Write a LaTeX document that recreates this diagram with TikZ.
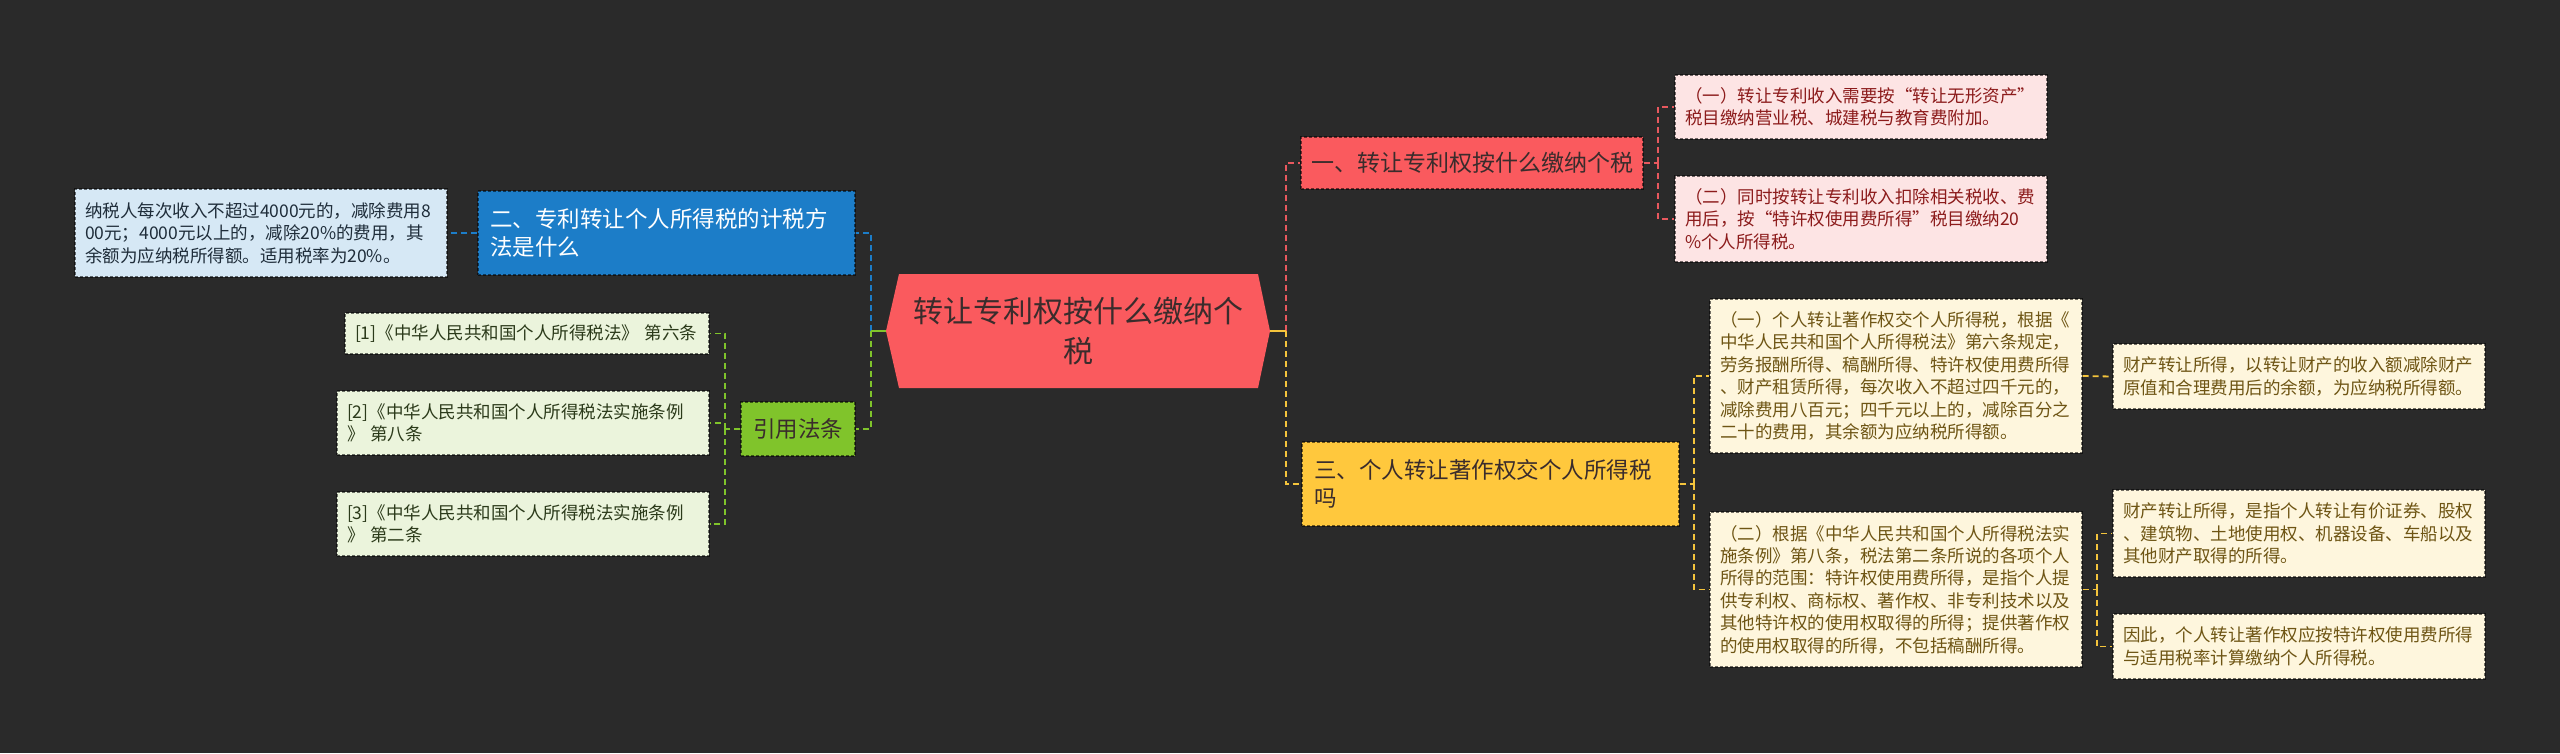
\documentclass[tikz,border=0pt]{standalone}
\usepackage{fontspec}
\setmainfont{Noto Sans CJK SC}
\definecolor{bg}{HTML}{2A2A2A}
\definecolor{cred}{HTML}{FA5A5E}
\definecolor{redleaf}{HTML}{FDE4E4}
\definecolor{redtxt}{HTML}{8C1B1B}
\definecolor{cblue}{HTML}{1C7DC8}
\definecolor{blueleaf}{HTML}{D6E8F5}
\definecolor{bluetxt}{HTML}{1F2D3A}
\definecolor{cgreen}{HTML}{80C42B}
\definecolor{greenleaf}{HTML}{EBF4DC}
\definecolor{greentxt}{HTML}{2B3A1A}
\definecolor{cyellow}{HTML}{FFC83D}
\definecolor{yellowleaf}{HTML}{FEF6DD}
\definecolor{yellowtxt}{HTML}{6E5514}
\definecolor{darktxt}{HTML}{3A2C2C}
\definecolor{lred}{HTML}{E8585E}
\definecolor{lyellow}{HTML}{F4C43C}
\tikzset{
  boxbase/.style={rectangle, inner ysep=0pt, align=left, draw=black, draw opacity=0.55,
    line width=1.1pt, dash pattern=on 3pt off 2pt},
  leafbox/.style={boxbase, inner xsep=10pt, font=\fontsize{17.5}{22.4}\selectfont},
  branchbox/.style={boxbase, inner xsep=12pt, font=\fontsize{22.5}{28}\selectfont},
  conn/.style={line width=1.8pt, dash pattern=on 6pt off 4pt},
  stub/.style={line width=1.8pt, solid}
}
\begin{document}
\begin{tikzpicture}[x=1pt,y=-1pt]
\fill[bg] (0,0) rectangle (2560,753);
\useasboundingbox (0,0) rectangle (2560,753);

% central
\fill[cred] (886,331) -- (899,274) -- (1258,274) -- (1270,331) -- (1258,388) -- (899,388) -- cycle;
\node[inner sep=0pt, minimum width=384pt, minimum height=114pt, align=center,
  text=darktxt, font=\fontsize{30}{40}\selectfont] (c) at (1078,331) {转让专利权按什么缴纳个\\税};

% left side
\node[branchbox, fill=cblue, text=white, text width=353pt, minimum height=84pt] (bb) at (666.5,233)
  {二、专利转让个人所得税的计税方\\法是什么};
\node[leafbox, fill=blueleaf, text=bluetxt, text width=352pt, minimum height=88pt] (bl) at (261,233)
  {纳税人每次收入不超过4000元的，减除费用8\\00元；4000元以上的，减除20\%的费用，其\\余额为应纳税所得额。适用税率为20\%。};

\node[branchbox, fill=cgreen, text=darktxt, text width=90pt, minimum height=54pt] (gb) at (798,429) {引用法条};
\node[leafbox, fill=greenleaf, text=greentxt, text width=344pt, minimum height=41pt] (gl1) at (527,333.5)
  {[1]《中华人民共和国个人所得税法》 第六条};
\node[leafbox, fill=greenleaf, text=greentxt, text width=352pt, minimum height=64pt] (gl2) at (523,423)
  {[2]《中华人民共和国个人所得税法实施条例\\》 第八条};
\node[leafbox, fill=greenleaf, text=greentxt, text width=352pt, minimum height=64pt] (gl3) at (523,524)
  {[3]《中华人民共和国个人所得税法实施条例\\》 第二条};

% right side: red
\node[boxbase, inner xsep=0pt, align=center, fill=cred, text=darktxt, minimum width=342pt, minimum height=52pt,
  font=\fontsize{23}{28}\selectfont] (rb) at (1472,163) {一、转让专利权按什么缴纳个税};
\node[leafbox, fill=redleaf, text=redtxt, text width=352pt, minimum height=64pt] (r1) at (1861,107)
  {（一）转让专利收入需要按“转让无形资产”\\税目缴纳营业税、城建税与教育费附加。};
\node[leafbox, fill=redleaf, text=redtxt, text width=352pt, minimum height=86pt] (r2) at (1861,219)
  {（二）同时按转让专利收入扣除相关税收、费\\用后，按“特许权使用费所得”税目缴纳20\\\%个人所得税。};

% right side: yellow
\node[branchbox, fill=cyellow, text=darktxt, text width=353pt, minimum height=84pt] (yb) at (1490.5,484)
  {三、个人转让著作权交个人所得税\\吗};
\node[leafbox, fill=yellowleaf, text=yellowtxt, text width=352pt, minimum height=154pt] (y1) at (1896,376)
  {（一）个人转让著作权交个人所得税，根据《\\中华人民共和国个人所得税法》第六条规定，\\劳务报酬所得、稿酬所得、特许权使用费所得\\、财产租赁所得，每次收入不超过四千元的，\\减除费用八百元；四千元以上的，减除百分之\\二十的费用，其余额为应纳税所得额。};
\node[leafbox, fill=yellowleaf, text=yellowtxt, text width=352pt, minimum height=155pt] (y2) at (1896,589.5)
  {（二）根据《中华人民共和国个人所得税法实\\施条例》第八条，税法第二条所说的各项个人\\所得的范围：特许权使用费所得，是指个人提\\供专利权、商标权、著作权、非专利技术以及\\其他特许权的使用权取得的所得；提供著作权\\的使用权取得的所得，不包括稿酬所得。};
\node[leafbox, fill=yellowleaf, text=yellowtxt, text width=352pt, minimum height=65pt] (y1a) at (2299,376.5)
  {财产转让所得，以转让财产的收入额减除财产\\原值和合理费用后的余额，为应纳税所得额。};
\node[leafbox, fill=yellowleaf, text=yellowtxt, text width=352pt, minimum height=87pt] (y2a) at (2299,533.5)
  {财产转让所得，是指个人转让有价证券、股权\\、建筑物、土地使用权、机器设备、车船以及\\其他财产取得的所得。};
\node[leafbox, fill=yellowleaf, text=yellowtxt, text width=352pt, minimum height=65pt] (y2b) at (2299,646.5)
  {因此，个人转让著作权应按特许权使用费所得\\与适用税率计算缴纳个人所得税。};

% junctions
\coordinate (jl) at (871,331);
\coordinate (jr) at (1286,331);
\coordinate (jg) at (725,429);
\coordinate (jrb) at (1658,163);
\coordinate (jyb) at (1694,484);
\coordinate (jy2) at (2097,589.5);

% connectors left
\draw[conn, cblue] (jl) |- (bb.east);
\draw[conn, cgreen] (jl) |- (gb.east);
\draw[stub, cgreen] (c.west) -- (jl);
\draw[conn, cblue] (bb.west) -- (bl.east);
\draw[conn, cgreen] (gb.west) -- (jg);
\draw[conn, cgreen] (jg) |- (gl1.east);
\draw[conn, cgreen] (jg) |- (gl2.east);
\draw[conn, cgreen] (jg) |- (gl3.east);

% connectors right
\draw[conn, lred] (jr) |- (rb.west);
\draw[conn, lyellow] (jr) |- (yb.west);
\draw[stub, lyellow] (c.east) -- (jr);
\draw[conn, lred] (rb.east) -- (jrb);
\draw[conn, lred] (jrb) |- (r1.west);
\draw[conn, lred] (jrb) |- (r2.west);
\draw[conn, lyellow] (yb.east) -- (jyb);
\draw[conn, lyellow] (jyb) |- (y1.west);
\draw[conn, lyellow] (jyb) |- (y2.west);
\draw[conn, lyellow] (y1.east) -- (y1a.west);
\draw[conn, lyellow] (y2.east) -- (jy2);
\draw[conn, lyellow] (jy2) |- (y2a.west);
\draw[conn, lyellow] (jy2) |- (y2b.west);
\end{tikzpicture}
\end{document}
